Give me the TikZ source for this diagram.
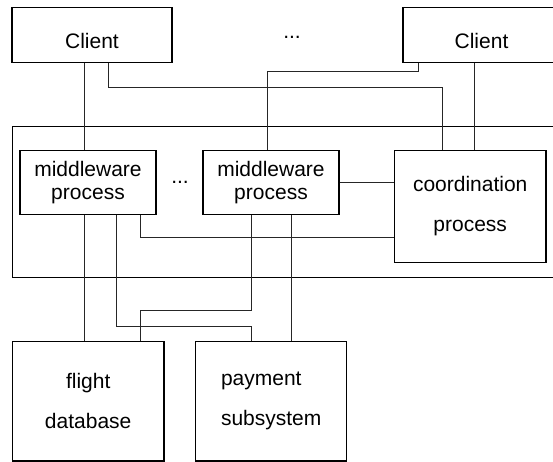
\documentclass[tikz,border=0pt]{standalone}
\usepackage{fontspec}
\setmainfont{Liberation Sans}
\begin{document}
\begin{tikzpicture}[x = 1pt, y = -1pt,
	blk/.style = {draw, line width = 1.3pt, inner sep = 0, align = center, font = \fontsize{21}{23}\selectfont},
	tall/.style = {font = \fontsize{21}{40}\selectfont},
	wire/.style = {line width = .9pt, black!85}]
	\def\blk#1{node [blk, #1] }
	\useasboundingbox (0, 0) rectangle (553, 461);
	\clip (0, 0) rectangle (553, 461);

	\draw (291, 202.2) \blk{minimum width = 557.4, minimum height = 151} (tier) {};
	\draw (92, 35) \blk{minimum width = 160, minimum height = 55.4, text height = 27pt} (cla) {Client};
	\draw (292, 37) node [font = \fontsize{21}{23}\selectfont] (dtop) {...};
	\draw (481.5, 35) \blk{minimum width = 157, minimum height = 55.4, text height = 27pt} (clb) {Client};
	\draw (88, 182.7) \blk{minimum width = 136, minimum height = 64} (mwa) {middleware\\process};
	\draw (180, 182) node [font = \fontsize{21}{23}\selectfont] (dmid) {...};
	\draw (271, 182.7) \blk{minimum width = 136, minimum height = 64} (mwb) {middleware\\process};
	\draw (470.2, 206.5) \blk{minimum width = 151.7, minimum height = 111.6, tall} (coord) {coordination\\process};
	\draw (88.2, 401.3) \blk{minimum width = 151.7, minimum height = 119.3, tall} (fdb) {flight\\database};
	\draw (271.2, 401.3) \blk{minimum width = 151, minimum height = 119.3, tall, align = left} (pay) {payment\\subsystem};

	\draw [wire] (cla.south -| 84,0) -- (mwa.north -| 84,0);
	\draw [wire] (cla.south -| 108,0) -- ++(0, 24.3) -| (coord.north -| 442,0);
	\draw [wire] (clb.south -| 418,0) -- ++(0, 8) -| (mwb.north -| 267,0);
	\draw [wire] (clb.south -| 474,0) -- (coord.north -| 474,0);
	\draw [wire] (mwb.east) -- (mwb.east -| coord.west);
	\draw [wire] (mwa.south -| 140,0) |- (coord.west |- 0,237.7);
	\draw [wire] (mwa.south -| 84,0) -- (fdb.north -| 84,0);
	\draw [wire] (mwa.south -| 116,0) -- ++(0, 111) -| (pay.north -| 251,0);
	\draw [wire] (mwb.south -| 251,0) -- ++(0, 95.3) -| (fdb.north -| 140,0);
	\draw [wire] (mwb.south -| 291,0) -- (pay.north -| 291,0);
\end{tikzpicture}
\end{document}
